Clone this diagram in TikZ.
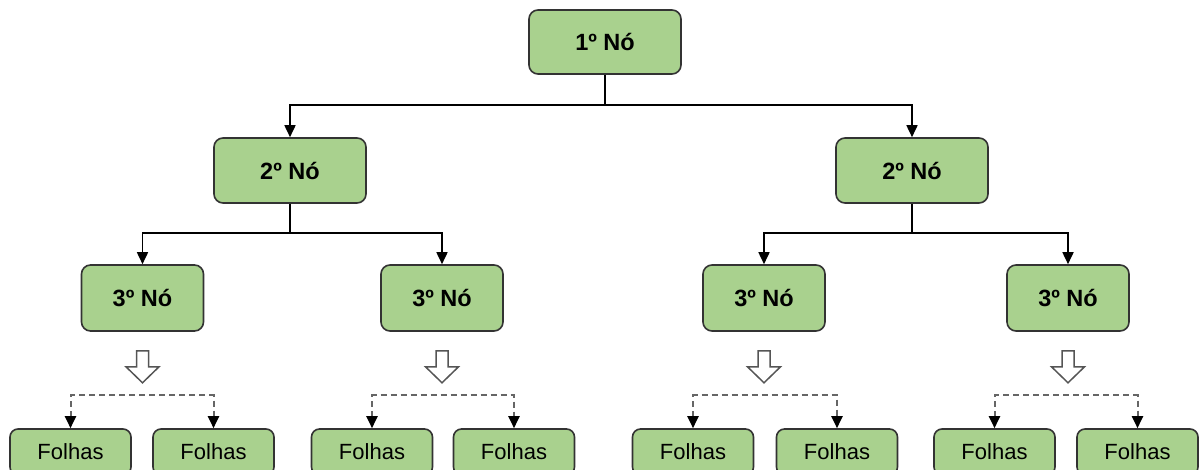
\documentclass[tikz,border=0pt]{standalone}
\usepackage{fontspec}
\setmainfont{Liberation Sans}
\usetikzlibrary{arrows.meta}
\definecolor{boxfill}{HTML}{A9D18E}
\definecolor{boxline}{HTML}{333333}
\definecolor{dashgray}{HTML}{666666}
\definecolor{hollowline}{HTML}{555555}
\tikzset{
  treebox/.style={draw=boxline, line width=1.6pt, fill=boxfill, rounded corners=9pt,
    inner sep=0pt, font=\fontsize{23.5}{26}\selectfont\bfseries},
  rootbox/.style={treebox, minimum width=152pt, minimum height=64pt},
  midbox/.style={treebox, minimum width=152pt, minimum height=65pt},
  lowbox/.style={treebox, minimum width=122pt, minimum height=66pt},
  leafbox/.style={draw=boxline, line width=1.6pt, fill=boxfill, rounded corners=8pt,
    inner sep=0pt, minimum width=121pt, minimum height=46pt,
    font=\fontsize{22}{25}\selectfont},
  link/.style={draw=black, line width=1.7pt, -{Triangle[length=12pt,width=11pt]}},
  leaflink/.style={draw=dashgray, line width=2pt, dash pattern=on 6pt off 4pt,
    {Triangle[length=12pt,width=11pt,black]}-{Triangle[length=12pt,width=11pt,black]}},
  hollow/.style={draw=hollowline, line width=1.5pt, fill=white, line join=miter}
}
\begin{document}
\begin{tikzpicture}[x=1pt,y=-1pt]
  \useasboundingbox (0,0) rectangle (1199,470);
  \clip (0,0) rectangle (1199,470);

  % first level
  \node[rootbox] (root) at (605,42) {1º Nó};

  % second level
  \node[midbox] (a) at (290,170.5) {2º Nó};
  \node[midbox] (b) at (912,170.5) {2º Nó};

  % third level
  \node[lowbox] (a1) at (142.5,298) {3º Nó};
  \node[lowbox] (a2) at (442,298) {3º Nó};
  \node[lowbox] (b1) at (764,298) {3º Nó};
  \node[lowbox] (b2) at (1068,298) {3º Nó};

  % leaves
  \foreach \name/\x in {a1l/70.5, a1r/213.5, a2l/372, a2r/514,
                        b1l/693, b1r/837, b2l/994.5, b2r/1137.5}
    \node[leafbox] (\name) at (\x,452) {Folhas};

  % junctions of the branching connectors
  \coordinate (j0) at (605,105);
  \coordinate (ja) at (290,233);
  \coordinate (jb) at (912,233);

  % connectors between levels
  \draw[link] (root.south) -- (j0) -| (a.north);
  \draw[link] (j0) -| (b.north);
  \draw[link] (a.south) -- (ja) -| (a1.north);
  \draw[link] (ja) -| (a2.north);
  \draw[link] (b.south) -- (jb) -| (b1.north);
  \draw[link] (jb) -| (b2.north);

  % hollow arrows under the third level
  \foreach \n in {a1,a2,b1,b2}
    \draw[hollow] ([xshift=-6pt,yshift=-19pt]\n.south)
      -- ++(0,16) -- ++(-10.5,0) -- ++(16.5,16) -- ++(16.5,-16)
      -- ++(-10.5,0) -- ++(0,-16) -- cycle;

  % dashed split into the leaves
  \draw[leaflink] (a1l.north) -- ++(0,-33) -| (a1r.north);
  \draw[leaflink] (a2l.north) -- ++(0,-33) -| (a2r.north);
  \draw[leaflink] (b1l.north) -- ++(0,-33) -| (b1r.north);
  \draw[leaflink] (b2l.north) -- ++(0,-33) -| (b2r.north);
\end{tikzpicture}
\end{document}
